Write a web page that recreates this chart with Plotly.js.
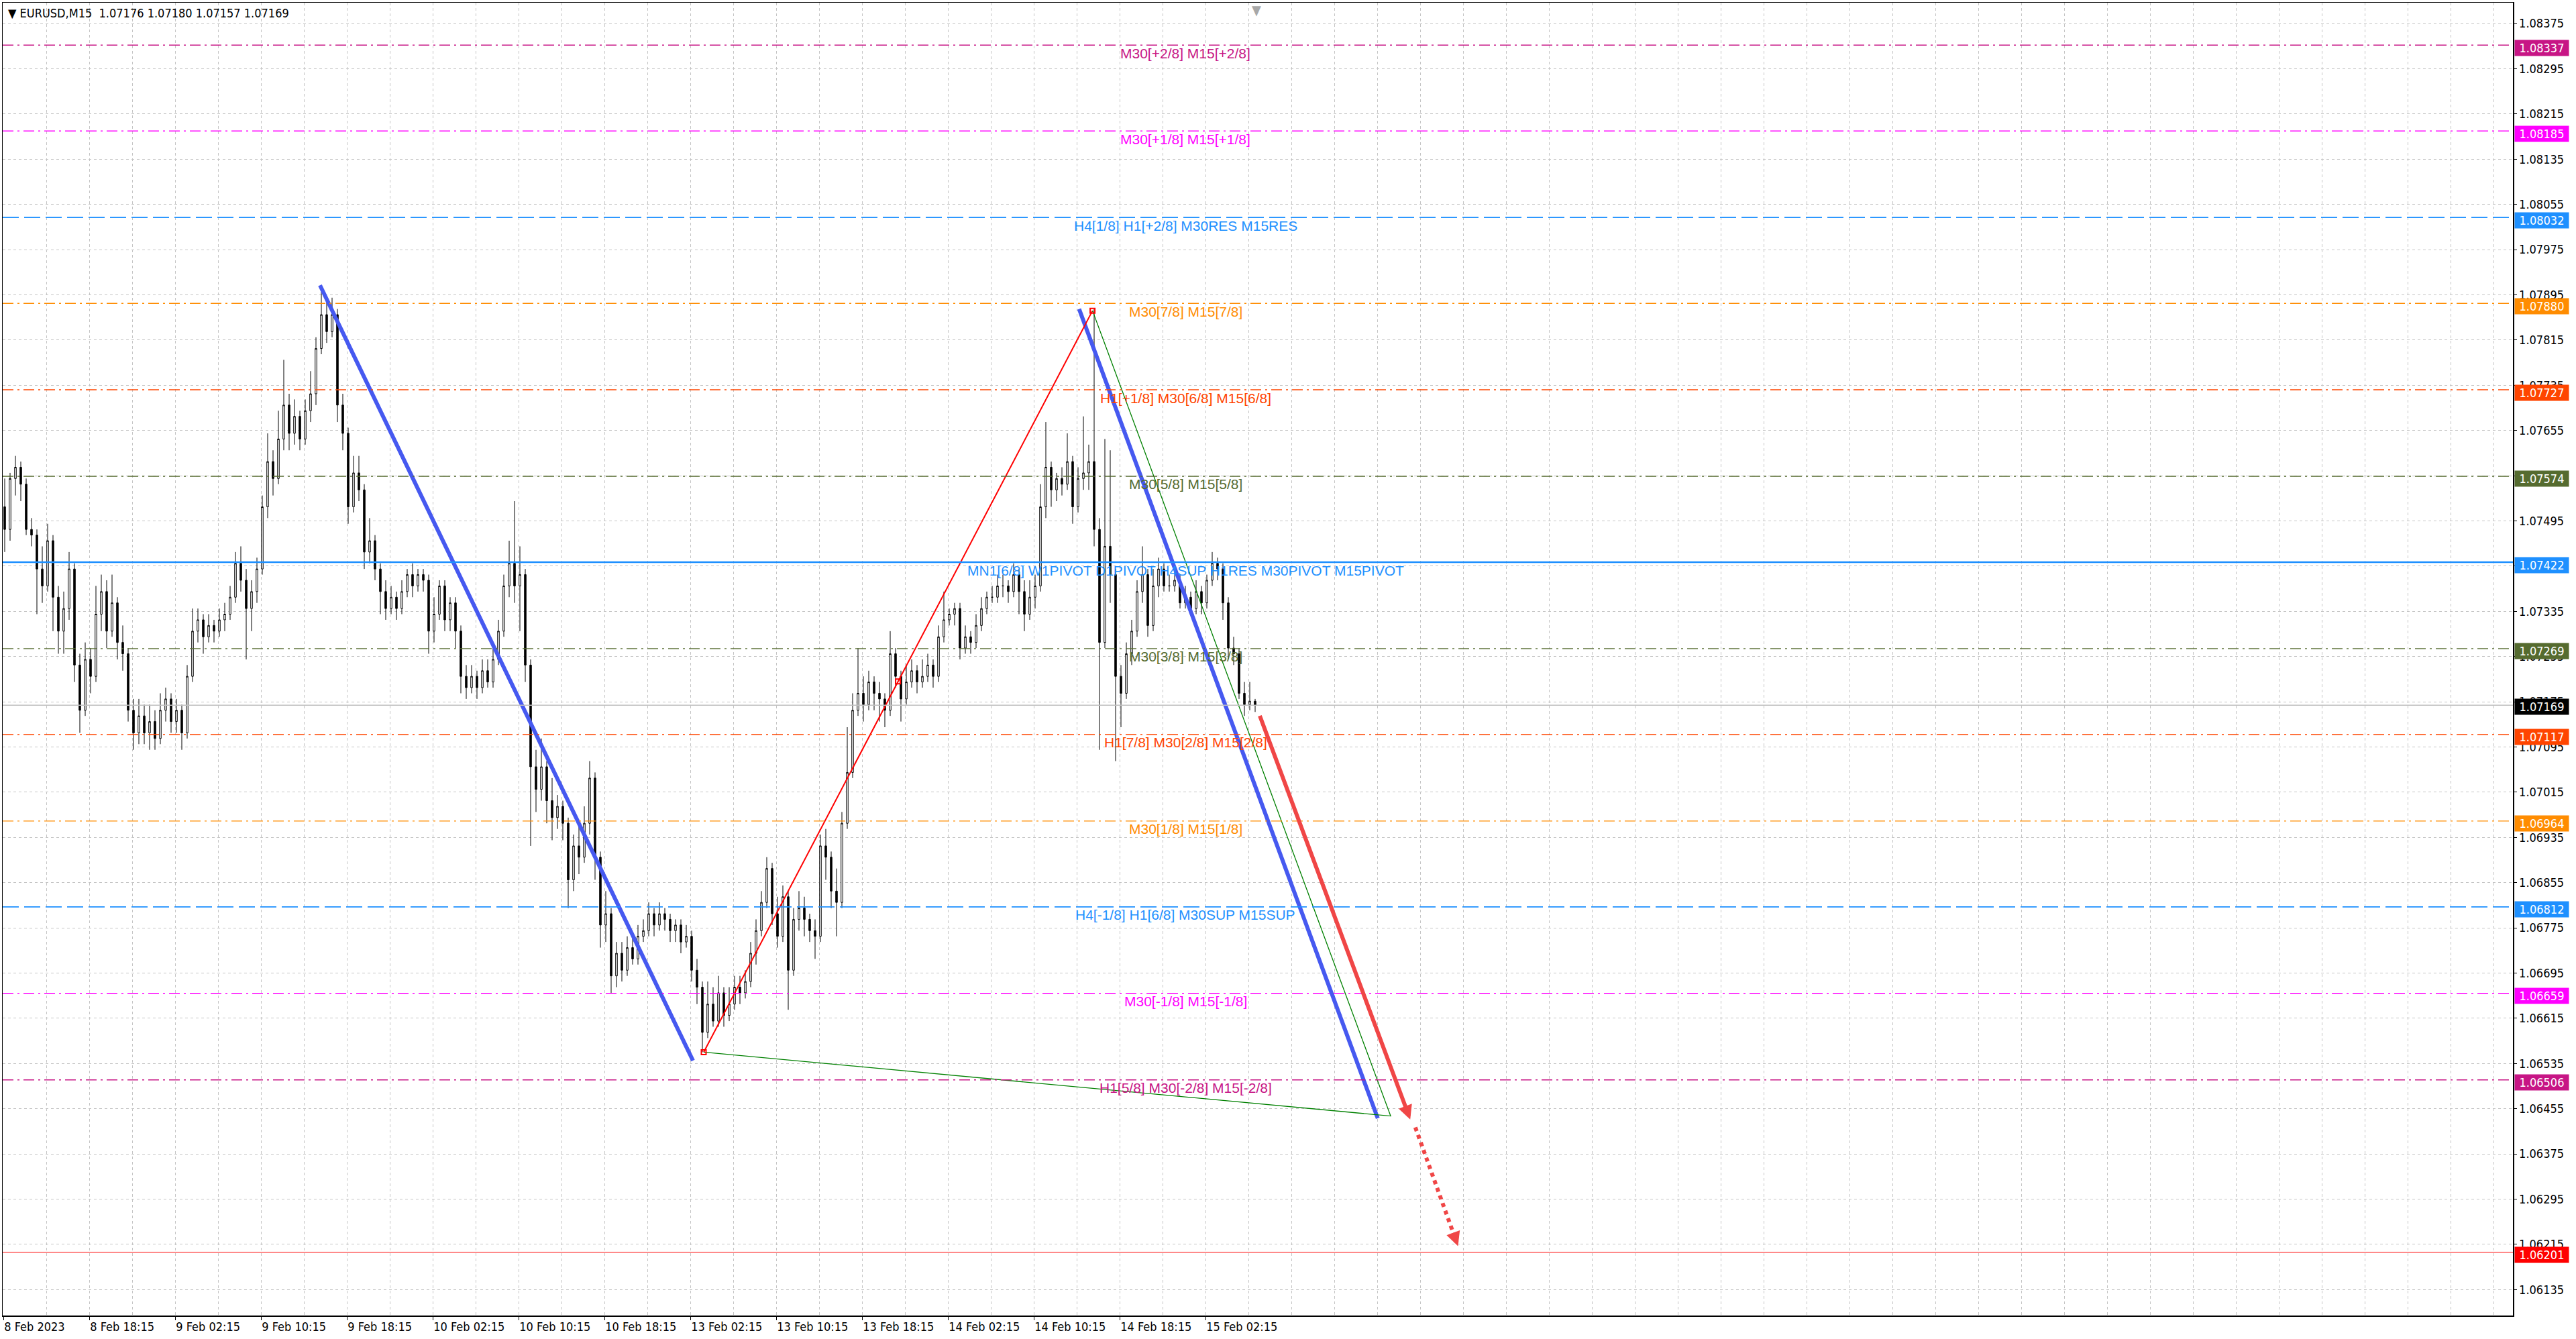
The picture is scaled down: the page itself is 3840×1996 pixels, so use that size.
<!DOCTYPE html>
<html><head><meta charset="utf-8">
<script src="https://cdn.plot.ly/plotly-3.0.1.min.js"></script>
<style>html,body{margin:0;padding:0;background:#fff;}#chart{width:3840px;height:1996px;}</style>
</head><body><div id="chart"></div>
<script>
// 30-minute candles (index in M15 bars = 2*j)
const candleOpen = [
1.0752,1.0748,1.0757,1.0759,1.0756,1.0748,1.0747,1.0741,1.0738,1.0746,
1.0736,1.0730,1.0734,1.0741,1.0724,1.0716,1.0725,1.0722,1.0733,1.0737,
1.0730,1.0735,1.0728,1.0726,1.0716,1.0712,1.0715,1.0712,1.0714,1.0711,
1.0716,1.0718,1.0714,1.0716,1.0712,1.0722,1.0730,1.0732,1.0729,1.0731,
1.0730,1.0732,1.0733,1.0736,1.0742,1.0739,1.0734,1.0737,1.0741,1.0752,
1.0760,1.0757,1.0764,1.0770,1.0765,1.0768,1.0764,1.0769,1.0772,1.0780,
1.0786,1.0783,1.0786,1.0770,1.0765,1.0752,1.0758,1.0755,1.0744,1.0746,
1.0741,1.0737,1.0734,1.0736,1.0734,1.0737,1.0740,1.0738,1.0740,1.0739,
1.0730,1.0733,1.0738,1.0732,1.0735,1.0730,1.0722,1.0720,1.0722,1.0720,
1.0723,1.0721,1.0725,1.0730,1.0738,1.0742,1.0738,1.0740,1.0724,1.0706,
1.0702,1.0706,1.0700,1.0697,1.0699,1.0696,1.0686,1.0692,1.0690,1.0696,
1.0704,1.0690,1.0678,1.0680,1.0669,1.0673,1.0670,1.0674,1.0672,1.0676,
1.0677,1.0680,1.0678,1.0680,1.0679,1.0677,1.0678,1.0675,1.0676,1.0670,
1.0667,1.0659,1.0664,1.0661,1.0666,1.0662,1.0664,1.0667,1.0666,1.0668,
1.0673,1.0677,1.0682,1.0688,1.0680,1.0676,1.0683,1.0670,1.0679,1.0681,
1.0679,1.0677,1.0676,1.0692,1.0690,1.0684,1.0682,1.0696,1.0705,1.0716,
1.0719,1.0717,1.0721,1.0719,1.0718,1.0716,1.0726,1.0722,1.0718,1.0721,
1.0723,1.0721,1.0722,1.0724,1.0722,1.0729,1.0732,1.0733,1.0734,1.0727,
1.0729,1.0728,1.0731,1.0734,1.0736,1.0736,1.0738,1.0738,1.0737,1.0740,
1.0737,1.0733,1.0736,1.0738,1.0752,1.0759,1.0755,1.0757,1.0756,1.0760,
1.0752,1.0757,1.0758,1.0760,1.0748,1.0728,1.0745,1.0740,1.0722,1.0719,
1.0726,1.0730,1.0737,1.0740,1.0731,1.0738,1.0741,1.0738,1.0738,1.0739,
1.0735,1.0736,1.0734,1.0737,1.0735,1.0739,1.0742,1.0741,1.0735,1.0727,
1.0726,1.0719,1.0717,1.07176];
const candleHigh = [
1.0757,1.0758,1.0761,1.0760,1.0757,1.0750,1.0748,1.0745,1.0749,1.0747,
1.0738,1.0737,1.0744,1.0742,1.0726,1.0728,1.0727,1.0738,1.0740,1.0739,
1.0740,1.0736,1.0731,1.0727,1.0718,1.0718,1.0717,1.0717,1.0716,1.0719,
1.0720,1.0719,1.0718,1.0717,1.0724,1.0734,1.0734,1.0733,1.0733,1.0732,
1.0734,1.0735,1.0738,1.0744,1.0745,1.0741,1.0739,1.0743,1.0754,1.0765,
1.0762,1.0769,1.0778,1.0772,1.0771,1.0769,1.0771,1.0776,1.0782,1.0790,
1.0789,1.0789,1.0787,1.0772,1.0766,1.0761,1.0761,1.0756,1.0750,1.0747,
1.0742,1.0739,1.0738,1.0737,1.0739,1.0741,1.0742,1.0741,1.0741,1.0740,
1.0736,1.0739,1.0739,1.0736,1.0736,1.0731,1.0724,1.0724,1.0723,1.0725,
1.0725,1.0727,1.0732,1.0740,1.0746,1.0753,1.0745,1.0741,1.0725,1.0709,
1.0711,1.0707,1.0704,1.0701,1.0700,1.0697,1.0694,1.0696,1.0699,1.0707,
1.0705,1.0691,1.0684,1.0681,1.0675,1.0675,1.0676,1.0676,1.0678,1.0679,
1.0682,1.0681,1.0682,1.0681,1.0680,1.0679,1.0679,1.0678,1.0677,1.0672,
1.0668,1.0668,1.0667,1.0669,1.0667,1.0667,1.0669,1.0669,1.0670,1.0675,
1.0679,1.0684,1.0690,1.0689,1.0683,1.0685,1.0684,1.0681,1.0684,1.0683,
1.0680,1.0679,1.0694,1.0695,1.0691,1.0688,1.0698,1.0713,1.0719,1.0727,
1.0722,1.0723,1.0722,1.0721,1.0719,1.0730,1.0727,1.0723,1.0724,1.0725,
1.0724,1.0725,1.0726,1.0725,1.0731,1.0737,1.0734,1.0735,1.0735,1.0731,
1.0730,1.0733,1.0736,1.0737,1.0738,1.0740,1.0740,1.0739,1.0742,1.0741,
1.0739,1.0739,1.0740,1.0756,1.0767,1.0760,1.0758,1.0759,1.0765,1.0761,
1.0759,1.0768,1.0763,1.0787,1.0750,1.0764,1.0762,1.0741,1.0724,1.0728,
1.0732,1.0739,1.0745,1.0741,1.0741,1.0743,1.0742,1.0740,1.0741,1.0740,
1.0738,1.0737,1.0739,1.0738,1.0740,1.0744,1.0743,1.0742,1.0736,1.0729,
1.0727,1.0721,1.0721,1.07180];
const candleLow = [
1.0744,1.0746,1.0754,1.0753,1.0747,1.0745,1.0733,1.0735,1.0737,1.0730,
1.0726,1.0726,1.0732,1.0721,1.0712,1.0715,1.0719,1.0721,1.0730,1.0727,
1.0729,1.0725,1.0723,1.0714,1.0709,1.0710,1.0710,1.0709,1.0709,1.0710,
1.0714,1.0712,1.0712,1.0709,1.0711,1.0721,1.0728,1.0726,1.0728,1.0728,
1.0729,1.0730,1.0732,1.0735,1.0737,1.0725,1.0730,1.0735,1.0740,1.0750,
1.0754,1.0756,1.0762,1.0762,1.0763,1.0762,1.0763,1.0767,1.0770,1.0779,
1.0781,1.0782,1.0767,1.0762,1.0749,1.0751,1.0753,1.0741,1.0742,1.0739,
1.0733,1.0732,1.0733,1.0732,1.0733,1.0736,1.0736,1.0737,1.0737,1.0726,
1.0728,1.0732,1.0730,1.0730,1.0727,1.0719,1.0718,1.0719,1.0718,1.0719,
1.0720,1.0720,1.0724,1.0729,1.0736,1.0735,1.0730,1.0721,1.0692,1.0698,
1.0700,1.0696,1.0693,1.0695,1.0693,1.0681,1.0684,1.0687,1.0689,1.0694,
1.0686,1.0674,1.0675,1.0666,1.0667,1.0668,1.0669,1.0671,1.0671,1.0675,
1.0676,1.0676,1.0677,1.0677,1.0675,1.0675,1.0673,1.0674,1.0668,1.0664,
1.06555,1.0658,1.0660,1.0660,1.0660,1.0661,1.0663,1.0664,1.0665,1.0667,
1.0671,1.0676,1.0681,1.0678,1.0674,1.0675,1.0663,1.0669,1.0677,1.0676,
1.0675,1.0672,1.0675,1.0686,1.0681,1.0676,1.0681,1.0695,1.0704,1.0715,
1.0714,1.0716,1.0716,1.0714,1.0713,1.0715,1.0720,1.0714,1.0717,1.0720,
1.0719,1.0720,1.0721,1.0720,1.0721,1.0728,1.0731,1.0731,1.0725,1.0726,
1.0726,1.0727,1.0730,1.0733,1.0735,1.0735,1.0736,1.0735,1.0736,1.0733,
1.0730,1.0732,1.0734,1.0737,1.0750,1.0752,1.0753,1.0754,1.0755,1.0749,
1.0751,1.0755,1.0755,1.0745,1.0709,1.0727,1.0735,1.0707,1.0713,1.0718,
1.0724,1.0729,1.0735,1.0729,1.0730,1.0736,1.0737,1.0737,1.0737,1.0734,
1.0734,1.0733,1.0733,1.0733,1.0734,1.0738,1.0739,1.0732,1.0725,1.0724,
1.0718,1.0715,1.0716,1.07157];
const candleClose = [
1.0748,1.0757,1.0759,1.0756,1.0748,1.0747,1.0741,1.0738,1.0746,1.0736,
1.0730,1.0734,1.0741,1.0724,1.0716,1.0725,1.0722,1.0733,1.0737,1.0730,
1.0735,1.0728,1.0726,1.0716,1.0712,1.0715,1.0712,1.0714,1.0711,1.0716,
1.0718,1.0714,1.0716,1.0712,1.0722,1.0730,1.0732,1.0729,1.0731,1.0730,
1.0732,1.0733,1.0736,1.0742,1.0739,1.0734,1.0737,1.0741,1.0752,1.0760,
1.0757,1.0764,1.0770,1.0765,1.0768,1.0764,1.0769,1.0772,1.0780,1.0786,
1.0783,1.0786,1.0770,1.0765,1.0752,1.0758,1.0755,1.0744,1.0746,1.0741,
1.0737,1.0734,1.0736,1.0734,1.0737,1.0740,1.0738,1.0740,1.0739,1.0730,
1.0733,1.0738,1.0732,1.0735,1.0730,1.0722,1.0720,1.0722,1.0720,1.0723,
1.0721,1.0725,1.0730,1.0738,1.0742,1.0738,1.0740,1.0724,1.0706,1.0702,
1.0706,1.0700,1.0697,1.0699,1.0696,1.0686,1.0692,1.0690,1.0696,1.0704,
1.0690,1.0678,1.0680,1.0669,1.0673,1.0670,1.0674,1.0672,1.0676,1.0677,
1.0680,1.0678,1.0680,1.0679,1.0677,1.0678,1.0675,1.0676,1.0670,1.0667,
1.0659,1.0664,1.0661,1.0666,1.0662,1.0664,1.0667,1.0666,1.0668,1.0673,
1.0677,1.0682,1.0688,1.0680,1.0676,1.0683,1.0670,1.0679,1.0681,1.0679,
1.0677,1.0676,1.0692,1.0690,1.0684,1.0682,1.0696,1.0705,1.0716,1.0719,
1.0717,1.0721,1.0719,1.0718,1.0716,1.0726,1.0722,1.0718,1.0721,1.0723,
1.0721,1.0722,1.0724,1.0722,1.0729,1.0732,1.0733,1.0734,1.0727,1.0729,
1.0728,1.0731,1.0734,1.0736,1.0736,1.0738,1.0738,1.0737,1.0740,1.0737,
1.0733,1.0736,1.0738,1.0752,1.0759,1.0755,1.0757,1.0756,1.0760,1.0752,
1.0757,1.0758,1.0760,1.0748,1.0728,1.0745,1.0740,1.0722,1.0719,1.0726,
1.0730,1.0737,1.0740,1.0731,1.0738,1.0741,1.0738,1.0738,1.0739,1.0735,
1.0736,1.0734,1.0737,1.0735,1.0739,1.0742,1.0741,1.0735,1.0727,1.0726,
1.0719,1.0717,1.07176,1.07169];

// time axis (M15 bar index) labels
const xTickIndex = [0,32,64,96,128,160,192,224,256,288,320,352,384,416,448];
const xTickLabels = ['8 Feb 2023','8 Feb 18:15','9 Feb 02:15','9 Feb 10:15','9 Feb 18:15','10 Feb 02:15','10 Feb 10:15','10 Feb 18:15','13 Feb 02:15','13 Feb 10:15','13 Feb 18:15','14 Feb 02:15','14 Feb 10:15','14 Feb 18:15','15 Feb 02:15'];

// Murrey math levels
const levelPrices = [1.08337,1.08185,1.08032,1.07880,1.07727,1.07574,1.07422,1.07269,1.07117,1.06964,1.06812,1.06659,1.06506];
const levelLabels = ['M30[+2/8] M15[+2/8]','M30[+1/8] M15[+1/8]','H4[1/8] H1[+2/8] M30RES M15RES','M30[7/8] M15[7/8]','H1[+1/8] M30[6/8] M15[6/8]','M30[5/8] M15[5/8]','MN1[6/8] W1PIVOT D1PIVOT H4SUP H1RES M30PIVOT M15PIVOT','M30[3/8] M15[3/8]','H1[7/8] M30[2/8] M15[2/8]','M30[1/8] M15[1/8]','H4[-1/8] H1[6/8] M30SUP M15SUP','M30[-1/8] M15[-1/8]','H1[5/8] M30[-2/8] M15[-2/8]'];
const levelColors = ['#C71585','#FF00FF','#1E90FF','#FF8C00','#FF4500','#556B2F','#1E90FF','#556B2F','#FF4500','#FF8C00','#1E90FF','#FF00FF','#C71585'];
const levelStyles = ['dashdot','dashdot','dash','dashdot','dashdot','dashdot','solid','dashdot','dashdot','dashdot','dash','dashdot','dashdot'];
const currentPrice = 1.07169;
const targetPrice = 1.06201;

// drawn objects (bar index, price)
const blue1X = [118, 257], blue1Y = [1.07912, 1.06540];
const blue2X = [400.9, 512.2], blue2Y = [1.07870, 1.06438];
const redLegX = [261, 405.9], redLegY = [1.06555, 1.07867];
const anchorX = [261, 333.4, 405.9], anchorY = [1.06555, 1.07211, 1.07867];
const greenX = [261, 517, 405.9], greenY = [1.06555, 1.06442, 1.07867];
const arrowX = [468.1, 524.3], arrowY = [1.07152, 1.06436];
const dotX = [526.2, 540.2, 542.1], dotY = [1.06422, 1.06237, 1.06212];

const labelIndex = 440.5;
const FONT_AX = '"DejaVu Sans Condensed", "DejaVu Sans", sans-serif';
const FONT_LBL = '"Liberation Sans", Arial, sans-serif';
const dashMap = {dashdot:'16px,6px,3px,6px', dash:'24px,8px', solid:'solid'};

const candleX = candleOpen.map((_, j) => 2 * j + 0.5);

const traces = [
  {type:'candlestick', x:candleX, open:candleOpen, high:candleHigh, low:candleLow, close:candleClose,
   increasing:{line:{color:'#000000', width:1}, fillcolor:'#ffffff'},
   decreasing:{line:{color:'#000000', width:1}, fillcolor:'#000000'},
   whiskerwidth:0, hoverinfo:'skip', showlegend:false},
  {type:'scatter', mode:'lines', x:blue1X, y:blue1Y, line:{color:'#4659F0', width:6}, hoverinfo:'skip'},
  {type:'scatter', mode:'lines', x:blue2X, y:blue2Y, line:{color:'#4659F0', width:6}, hoverinfo:'skip'},
  {type:'scatter', mode:'lines', x:redLegX, y:redLegY, line:{color:'#FF0000', width:2}, hoverinfo:'skip'},
  {type:'scatter', mode:'lines', x:greenX, y:greenY, line:{color:'#008000', width:1.3}, hoverinfo:'skip'},
  {type:'scatter', mode:'markers', x:anchorX, y:anchorY, marker:{symbol:'square-open', size:7, color:'#FF0000', line:{width:2}}, hoverinfo:'skip'},
  {type:'scatter', mode:'lines', x:dotX.slice(0,2), y:dotY.slice(0,2), line:{color:'#F04646', width:6, dash:'6px,6px'}, hoverinfo:'skip'}
];

const shapes = [];
const annotations = [];
const boxFont = {family:FONT_AX, size:18, color:'#ffffff'};
levelPrices.forEach((p, k) => {
  const st = levelStyles[k];
  shapes.push({type:'line', xref:'paper', x0:0, x1:1, yref:'y', y0:p, y1:p,
    line:{color:levelColors[k], width: st === 'solid' ? 2.5 : (st === 'dash' ? 1.6 : 1.4), dash:dashMap[st]}});
  annotations.push({xref:'x', x:labelIndex, yref:'y', y:p, yanchor:'middle', yshift:-12, showarrow:false,
    text:levelLabels[k], font:{family:FONT_LBL, size:21, color:levelColors[k]}});
  annotations.push({xref:'paper', x:1, xanchor:'left', xshift:2, yref:'y', y:p, yanchor:'middle', yshift:-4, showarrow:false,
    text:p.toFixed(5), bgcolor:levelColors[k], width:76, height:19, borderpad:2, font:boxFont});
});
shapes.push({type:'line', xref:'paper', x0:0, x1:1, yref:'y', y0:currentPrice, y1:currentPrice, line:{color:'#C0C0C0', width:1.5}});
shapes.push({type:'line', xref:'paper', x0:0, x1:1, yref:'y', y0:targetPrice, y1:targetPrice, line:{color:'#FF0000', width:1}});
annotations.push({xref:'paper', x:1, xanchor:'left', xshift:2, yref:'y', y:currentPrice, yanchor:'middle', yshift:-2, showarrow:false,
  text:currentPrice.toFixed(5), bgcolor:'#000000', width:76, height:19, borderpad:2, font:boxFont});
annotations.push({xref:'paper', x:1, xanchor:'left', xshift:2, yref:'y', y:targetPrice, yanchor:'middle', yshift:-4, showarrow:false,
  text:targetPrice.toFixed(5), bgcolor:'#FF0000', width:76, height:19, borderpad:2, font:boxFont});
// red forecast arrow
annotations.push({xref:'x', yref:'y', x:arrowX[1], y:arrowY[1], axref:'x', ayref:'y', ax:arrowX[0], ay:arrowY[0],
  text:'', showarrow:true, arrowhead:2, arrowsize:0.7, arrowwidth:6, arrowcolor:'#F04646'});
annotations.push({xref:'x', yref:'y', x:dotX[2], y:dotY[2], axref:'x', ayref:'y', ax:dotX[1], ay:dotY[1],
  text:'', showarrow:true, arrowhead:2, arrowsize:0.7, arrowwidth:6, arrowcolor:'#F04646'});
// header
annotations.push({xref:'paper', x:0, xanchor:'left', xshift:6, yref:'paper', y:1, yanchor:'top', yshift:-3, showarrow:false,
  text:'▼ EURUSD,M15  1.07176 1.07180 1.07157 1.07169', font:{family:FONT_AX, size:18, color:'#000000'}});
// chart shift marker
annotations.push({xref:'x', x:467, yref:'paper', y:1, yanchor:'top', yshift:3, showarrow:false,
  text:'▼', font:{family:FONT_AX, size:20, color:'#A8A8A8'}});

const gridStyle = {gridcolor:'#C4C4C4', griddash:'4px,4px', gridwidth:1};

const layout = {
  width:3840, height:1996,
  margin:{l:4, r:94, t:4, b:35},
  paper_bgcolor:'#ffffff', plot_bgcolor:'#ffffff',
  showlegend:false, hovermode:false, boxgap:0.55,
  xaxis:Object.assign({
    range:[-0.25, 935.25], type:'linear',
    tickmode:'array', tickvals:xTickIndex, ticktext:xTickLabels,
    ticks:'outside', ticklen:5, tickcolor:'#000000', ticklabelposition:'outside right',
    tickfont:{family:FONT_AX, size:18, color:'#000000'},
    showgrid:true, zeroline:false, showline:true, linecolor:'#000000', linewidth:1.5, mirror:true,
    rangeslider:{visible:false}, fixedrange:true,
    minor:{tickmode:'linear', tick0:0, dtick:16, showgrid:true, gridcolor:'#C4C4C4', griddash:'4px,4px', ticks:''}
  }, gridStyle),
  yaxis:Object.assign({
    side:'right', range:[1.06089, 1.08412],
    tickmode:'linear', tick0:1.06135, dtick:0.0008, tickformat:'.5f',
    ticks:'outside', ticklen:4, tickcolor:'#000000',
    tickfont:{family:FONT_AX, size:18, color:'#000000'},
    showgrid:true, zeroline:false, showline:true, linecolor:'#000000', linewidth:1.5, mirror:true, fixedrange:true
  }, gridStyle),
  shapes:shapes,
  annotations:annotations
};

Plotly.newPlot('chart', traces, layout, {staticPlot:true, displayModeBar:false});
</script>
</body></html>
